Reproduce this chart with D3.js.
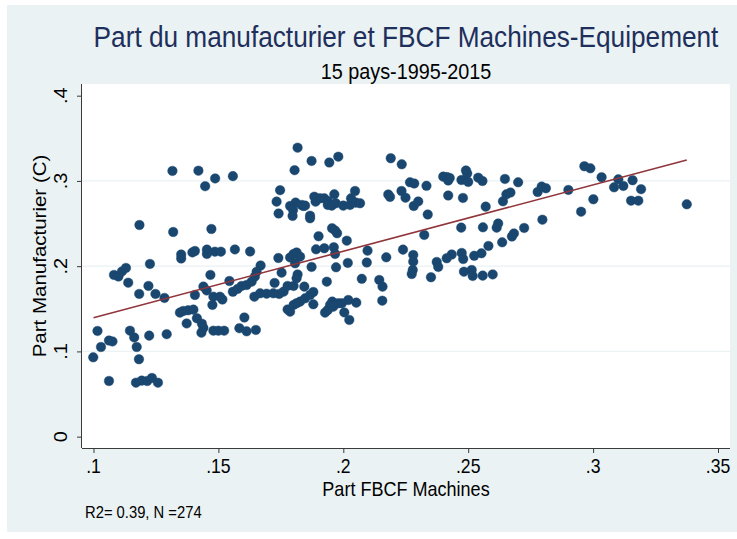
<!DOCTYPE html>
<html><head><meta charset="utf-8">
<script src="https://cdn.jsdelivr.net/npm/d3@7/dist/d3.min.js"></script>
<style>html,body{margin:0;padding:0;background:#fff;}svg{display:block;}</style>
</head><body>
<svg id="c" width="737" height="539"></svg>
<script>
// ---- data ----
const fbcf = [0.0999,0.1016,0.1030,0.1062,0.1076,0.1062,0.1082,0.1100,0.1114,0.1130,0.1139,0.1146,0.1163,0.1173,0.1182,0.1170,0.1193,0.1215,0.1234,0.1258,0.1183,0.1184,0.1220,0.1223,0.1226,0.1248,0.1284,0.1293,
0.1316,0.1420,0.1487,0.1447,0.1558,0.1319,0.1472,0.1351,0.1351,0.1396,0.1406,0.1454,0.1454,0.1486,0.1510,0.1566,0.1627,0.1669,0.1740,0.1787,0.1801,0.1813,0.1827,0.1807,0.1817,0.1805,0.1747,0.1733,0.1741,0.1787,0.1809,0.1799,0.1797,0.1840,
0.1346,0.1359,0.1379,0.1400,0.1373,0.1414,0.1434,0.1440,0.1432,0.1480,0.1500,0.1523,0.1584,0.1613,0.1650,0.1604,0.1468,0.1406,0.1440,0.1453,0.1480,0.1476,0.1516,0.1544,0.1558,0.1577,0.1593,0.1613,0.1633,0.1646,0.1653,0.1644,0.1667,0.1693,0.1720,0.1743,0.1761,0.1777,0.1801,0.1725,0.1753,0.1817,0.1813,0.1777,0.1787,0.1801,0.1827,0.1847,0.1867,0.1506,
0.1873,0.1944,0.1980,0.2190,0.2234,0.2180,0.2187,0.2233,0.2249,0.2282,0.2300,0.2267,0.2284,0.1833,0.1847,0.1867,0.1867,0.1884,0.1889,0.1907,0.1924,0.1938,0.1938,0.1954,0.1964,0.1970,0.2000,0.2027,0.2031,0.2047,0.2050,0.2067,0.1901,0.1955,0.1967,0.1975,0.2014,0.1891,0.1924,0.1962,0.1967,0.2097,0.2239,0.2172,0.2280,0.2280,0.2278,0.2274,0.2324,0.2338,0.2018,0.2094,0.1971,0.1873,0.2074,0.2144,0.2157,0.2156,0.1934,0.1844,0.1880,0.1813,0.1880,0.1956,0.1947,0.1980,0.1994,0.1927,0.1938,0.1960,0.2020,0.2052,0.2004,0.2024,
0.2333,0.2400,0.2414,0.2426,0.2420,0.2491,0.2496,0.2473,0.2500,0.2540,0.2557,0.2647,0.2700,0.2420,0.2479,0.2570,0.2639,0.2653,0.2669,0.2472,0.2559,0.2614,0.2620,0.2675,0.2683,0.2636,0.2581,0.2553,0.2524,0.2474,0.2480,0.2434,0.2414,0.2374,0.2380,0.2351,0.2483,0.2514,0.2518,0.2558,0.2598,0.2724,
0.2778,0.2794,0.2811,0.2797,0.2901,0.2965,0.2989,0.3034,0.3101,0.3084,0.3121,0.3158,0.3192,0.3152,0.3181,0.3375,0.3001,0.2952];
const manuf = [0.0931,0.1240,0.1052,0.1128,0.1117,0.0653,0.1897,0.1879,0.1938,0.1979,0.1806,0.1243,0.1164,0.1052,0.0908,0.0633,0.0657,0.0653,0.0689,0.0633,0.1674,0.2483,0.1768,0.1185,0.2026,0.1674,0.1627,0.1202,
0.3117,0.3120,0.3029,0.2938,0.3056,0.2401,0.2436,0.2137,0.2090,0.2161,0.2178,0.2194,0.2143,0.2170,0.2170,0.2196,0.2172,0.2008,0.2096,0.2102,0.2143,0.2161,0.2111,0.2034,0.3390,0.3126,0.2891,0.2757,0.2618,0.2706,0.2745,0.2659,0.2589,0.2706,
0.1455,0.1474,0.1483,0.1490,0.1328,0.1389,0.1325,0.1275,0.1220,0.1243,0.1243,0.1243,0.1272,0.1236,0.1252,0.1398,0.1897,0.1662,0.1760,0.1715,0.1642,0.1545,0.1609,0.1826,0.1700,0.1733,0.1768,0.1779,0.1818,0.1877,0.1935,0.1642,0.1682,0.1677,0.1682,0.1674,0.1701,0.1768,0.1768,0.1803,0.1924,0.1903,0.1858,0.1492,0.1466,0.1545,0.1584,0.1623,0.1662,0.1642,
0.3234,0.3216,0.3284,0.3266,0.3195,0.2841,0.2812,0.2882,0.2803,0.2706,0.2759,0.2984,0.2970,0.2718,0.2710,0.2592,0.2562,0.2815,0.2757,0.2796,0.2796,0.2765,0.2718,0.2710,0.2843,0.2738,0.2710,0.2718,0.2796,0.2882,0.2745,0.2738,0.2351,0.2445,0.2419,0.2386,0.2299,0.2198,0.2210,0.2222,0.2143,0.2182,0.2194,0.2104,0.2131,0.2053,0.1955,0.1908,0.2366,0.2606,0.2038,0.2043,0.1987,0.1991,0.1852,0.1838,0.1760,0.1595,0.1818,0.1760,0.1697,0.1565,0.1553,0.1584,0.1545,0.1565,0.1565,0.1455,0.1486,0.1525,0.1603,0.1572,0.1457,0.1369,
0.2943,0.3050,0.3046,0.3035,0.3005,0.3123,0.3087,0.3011,0.2988,0.3038,0.2999,0.3023,0.2984,0.2829,0.2800,0.2698,0.2761,0.2843,0.2864,0.2452,0.2456,0.2452,0.2501,0.2348,0.2384,0.2280,0.2237,0.2151,0.2122,0.2155,0.2084,0.2137,0.2093,0.2049,0.1991,0.1870,0.1935,0.1955,0.1885,0.1889,0.1903,0.2448,
0.2870,0.2933,0.2914,0.2545,0.2894,0.3172,0.3148,0.3043,0.3019,0.2925,0.2941,0.3008,0.2903,0.2768,0.2768,0.2726,0.2785,0.2639];
const fitX = [0.1, 0.3375];
const fitY = [0.1396, 0.3246];
const xTicks = [0.1, 0.15, 0.2, 0.25, 0.3, 0.35];
const xTickLabels = [".1", ".15", ".2", ".25", ".3", ".35"];
const yTicks = [0, 0.1, 0.2, 0.3, 0.4];
const yTickLabels = ["0", ".1", ".2", ".3", ".4"];
const yGrid = [0.1, 0.2, 0.3];
const title = "Part du manufacturier et FBCF Machines-Equipement";
const subtitle = "15 pays-1995-2015";
const xTitle = "Part FBCF Machines";
const yTitle = "Part Manufacturier (C)";
const note = "R2= 0.39, N =274";

// ---- layout ----
const L = 82, R = 730, T = 84, B = 448;
const SX = 0.88; // horizontal text compression
const FONT = "'Liberation Sans', Arial, sans-serif";
const svg = d3.select("#c");
svg.append("rect").attr("x", 7).attr("y", 5).attr("width", 730).attr("height", 527).attr("fill", "#eaf2f3");
svg.append("rect").attr("x", L).attr("y", T).attr("width", R - L).attr("height", B - T).attr("fill", "#ffffff");

const x = d3.scaleLinear().domain([0.0954, 0.3548]).range([L, R]);
const y = d3.scaleLinear().domain([-0.0133, 0.4137]).range([B, T]);

// grid
svg.append("g").selectAll("line").data(yGrid).join("line")
  .attr("x1", L).attr("x2", R).attr("y1", d => y(d)).attr("y2", d => y(d))
  .attr("stroke", "#eaf2f3").attr("stroke-width", 1.3);

// points
const pts = fbcf.map((v, i) => [v, manuf[i]]);
svg.append("g").selectAll("circle").data(pts).join("circle")
  .attr("cx", d => x(d[0])).attr("cy", d => y(d[1])).attr("r", 4.8)
  .attr("fill", "#1a476f").attr("stroke", "#1a476f").attr("stroke-width", 0.4);

// fit line
const line = d3.line().x(d => x(d[0])).y(d => y(d[1]));
svg.append("path").datum(fitX.map((v, i) => [v, fitY[i]])).attr("d", line)
  .attr("fill", "none").attr("stroke", "#90353b").attr("stroke-width", 1.6);

// axes
const xAxis = svg.append("g").attr("transform", `translate(0,${B})`)
  .call(d3.axisBottom(x).tickValues(xTicks).tickSize(5).tickFormat(""));
const yAxis = svg.append("g").attr("transform", `translate(${L},0)`)
  .call(d3.axisLeft(y).tickValues(yTicks).tickSize(5).tickFormat(""));
[xAxis, yAxis].forEach(g => {
  g.select(".domain").attr("stroke", "#3a3a3a").attr("stroke-width", 1).attr("d", g === xAxis ? `M${L},0.5H${R}` : `M-0.5,${T}V${B}`);
  g.selectAll(".tick line").attr("stroke", "#3a3a3a");
});

function txt(s, px, py, size, color, anchor, rot) {
  const t = svg.append("text").text(s).attr("font-family", FONT).attr("font-size", size)
    .attr("fill", color).attr("text-anchor", anchor || "middle")
    .attr("transform", `translate(${px},${py}) scale(${SX},1)` + (rot ? ` rotate(${rot})` : ""));
  return t;
}
// tick labels
xTicks.forEach((v, i) => txt(xTickLabels[i], x(v), 473, 20, "#000"));
yTicks.forEach((v, i) => txt(yTickLabels[i], 67, y(v), 20, "#000", "middle", -90));

txt(title, 406, 47, 29.8, "#1e2f5c");
txt(subtitle, 406, 79, 22.5, "#000");
txt(xTitle, 406, 496, 20.5, "#000");
txt(yTitle, 46, 256, 20.5, "#000", "middle", -90);
txt(note, 85, 518, 16.8, "#000", "start");
</script>
</body></html>
